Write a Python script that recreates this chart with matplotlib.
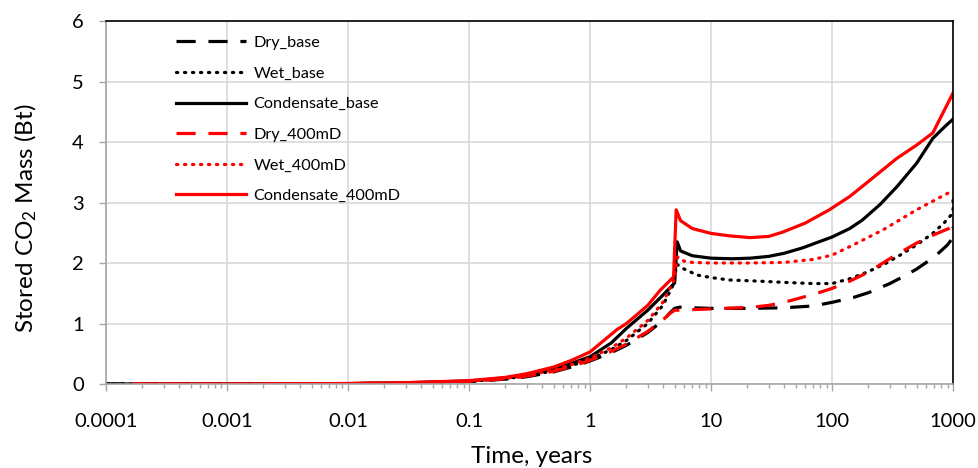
import numpy as np
import matplotlib.pyplot as plt
from matplotlib.ticker import FixedLocator, LogLocator, NullFormatter

plt.rcParams['font.family'] = ['Lato', 'DejaVu Sans']
plt.rcParams['mathtext.fontset'] = 'custom'
plt.rcParams['mathtext.rm'] = 'Lato'
plt.rcParams['mathtext.it'] = 'Lato:italic'

# DATA (time in years, stored mass in Bt)
t_dry_base = [0.0001, 0.001, 0.01, 0.03, 0.1, 0.2, 0.3, 0.5, 0.7, 1, 1.5, 2, 3, 4, 4.6, 5.0, 5.5,
              7, 10, 20, 40, 70, 100, 150, 200, 300, 400, 500, 700, 900, 1000, 1000]
v_dry_base = [0, 0, 0.005, 0.015, 0.04, 0.08, 0.12, 0.2, 0.28, 0.38, 0.52, 0.64, 0.85, 1.05, 1.18, 1.25, 1.27,
              1.26, 1.25, 1.25, 1.26, 1.29, 1.35, 1.43, 1.51, 1.66, 1.79, 1.9, 2.1, 2.3, 2.42, 2.6]

t_wet_base = [0.0001, 0.001, 0.01, 0.03, 0.1, 0.2, 0.3, 0.5, 0.7, 1, 1.5, 2, 3, 4, 4.9, 5.2, 6,
              7.7, 10, 14, 25, 40, 70, 100, 140, 195, 270, 365, 500, 680, 850, 1000, 1000]
v_wet_base = [0, 0, 0.006, 0.017, 0.045, 0.09, 0.13, 0.22, 0.3, 0.41, 0.57, 0.72, 1.0, 1.3, 1.65, 1.98, 1.9,
              1.8, 1.76, 1.72, 1.7, 1.68, 1.66, 1.66, 1.74, 1.85, 1.98, 2.13, 2.3, 2.49, 2.67, 2.83, 3.05]

t_cond_base = [0.0001, 0.001, 0.01, 0.03, 0.1, 0.2, 0.3, 0.5, 0.7, 1, 1.5, 2, 3, 4, 5.0, 5.25, 5.6,
               7, 10, 15, 21, 30, 40, 57, 100, 140, 178, 250, 343, 500, 680, 850, 1000]
v_cond_base = [0, 0, 0.007, 0.02, 0.05, 0.1, 0.15, 0.25, 0.34, 0.45, 0.68, 0.92, 1.22, 1.47, 1.67, 2.35, 2.2,
               2.12, 2.08, 2.07, 2.08, 2.11, 2.16, 2.25, 2.43, 2.57, 2.71, 2.97, 3.26, 3.65, 4.06, 4.25, 4.38]

t_dry_400 = [0.00017, 0.001, 0.01, 0.03, 0.1, 0.2, 0.3, 0.5, 0.7, 1, 1.5, 2, 3, 4, 4.6, 5.0, 5.5,
             7, 10, 22, 30, 40, 54, 75, 100, 140, 200, 316, 500, 700, 1000]
v_dry_400 = [0, 0, 0.006, 0.016, 0.042, 0.085, 0.13, 0.21, 0.29, 0.39, 0.54, 0.66, 0.87, 1.06, 1.17, 1.22, 1.22,
             1.23, 1.24, 1.27, 1.3, 1.35, 1.42, 1.5, 1.58, 1.7, 1.85, 2.1, 2.33, 2.47, 2.6]

t_wet_400 = [0.00017, 0.001, 0.01, 0.03, 0.1, 0.2, 0.3, 0.5, 0.7, 1, 1.5, 2, 3, 4, 4.9, 5.3, 6,
             7, 10, 20, 40, 70, 100, 150, 265, 500, 1000]
v_wet_400 = [0, 0, 0.007, 0.018, 0.047, 0.095, 0.14, 0.23, 0.32, 0.43, 0.6, 0.76, 1.05, 1.35, 1.7, 2.1, 2.03,
             2.01, 2.0, 2.0, 2.01, 2.06, 2.13, 2.3, 2.55, 2.88, 3.2]

t_cond_400 = [0.00017, 0.001, 0.01, 0.03, 0.1, 0.2, 0.3, 0.5, 0.7, 1, 1.67, 2, 3, 3.8, 4.9, 5.15, 5.6,
              7, 10, 14, 21, 30, 39, 60, 95, 140, 206, 343, 500, 680, 1000]
v_cond_400 = [0, 0, 0.008, 0.022, 0.055, 0.11, 0.17, 0.28, 0.39, 0.53, 0.9, 1.0, 1.3, 1.55, 1.77, 2.88, 2.7,
              2.57, 2.49, 2.45, 2.42, 2.44, 2.51, 2.66, 2.88, 3.1, 3.37, 3.73, 3.95, 4.15, 4.81]

labels = ['Dry_base', 'Wet_base', 'Condensate_base', 'Dry_400mD', 'Wet_400mD', 'Condensate_400mD']
x_ticks = [0.0001, 0.001, 0.01, 0.1, 1, 10, 100, 1000]
x_tick_labels = ['0.0001', '0.001', '0.01', '0.1', '1', '10', '100', '1000']

fig = plt.figure(figsize=(9.79, 4.68), dpi=100)
ax = fig.add_axes([0.1083, 0.1795, 0.8652, 0.7755])

lw = 2.3
dash = (0, (6, 4))
dot = (0, (0.4, 2.1))
ax.plot(t_dry_base, v_dry_base, color='black', lw=lw, linestyle=dash, label=labels[0])
ax.plot(t_wet_base, v_wet_base, color='black', lw=lw, linestyle=dot, dash_capstyle='round', label=labels[1])
ax.plot(t_cond_base, v_cond_base, color='black', lw=lw, label=labels[2])
ax.plot(t_dry_400, v_dry_400, color='#ff0000', lw=lw, linestyle=dash, label=labels[3])
ax.plot(t_wet_400, v_wet_400, color='#ff0000', lw=lw, linestyle=dot, dash_capstyle='round', label=labels[4])
ax.plot(t_cond_400, v_cond_400, color='#ff0000', lw=lw, label=labels[5])

ax.set_xscale('log')
ax.set_xlim(0.0001, 1000)
ax.set_ylim(0, 6)
ax.xaxis.set_major_locator(FixedLocator(x_ticks))
ax.set_xticklabels(x_tick_labels)
ax.xaxis.set_minor_locator(LogLocator(base=10, subs=np.arange(2, 10)))
ax.xaxis.set_minor_formatter(NullFormatter())
ax.set_yticks(range(0, 7))

ax.grid(True, which='major', color='#d9d9d9', lw=1.2)
ax.set_axisbelow(True)
for side in ['left', 'bottom']:
    ax.spines[side].set_color('#a6a6a6')
    ax.spines[side].set_linewidth(1.2)
for side in ['top', 'right']:
    ax.spines[side].set_color('black')
    ax.spines[side].set_linewidth(1.2)

ax.tick_params(axis='both', which='major', labelsize=14.5, color='#a6a6a6', length=5, width=1)
ax.tick_params(axis='x', which='minor', color='#a6a6a6', length=3, width=1)
ax.tick_params(axis='x', which='major', pad=16)
ax.tick_params(axis='y', which='major', pad=11)

ax.set_xlabel('Time, years', fontsize=17.5)
ax.set_ylabel('Stored CO$_2$ Mass (Bt)', fontsize=17.5)
ax.xaxis.set_label_coords(0.502, -0.172)
ax.yaxis.set_label_coords(-0.079, 0.457)

ax.legend(loc='upper left', bbox_to_anchor=(0.065, 1.0), frameon=False, fontsize=11.7,
          handlelength=4.3, labelspacing=1.0, handletextpad=0.5)

fig.savefig('out.png', dpi=100)
